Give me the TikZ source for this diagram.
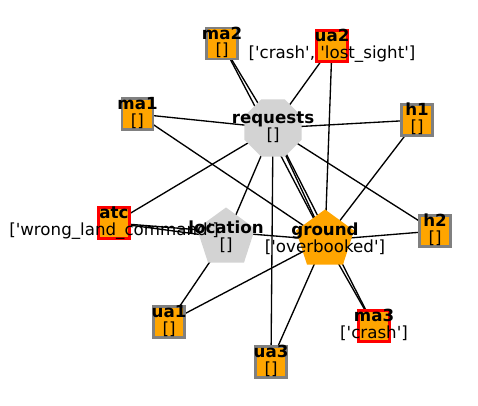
\documentclass[tikz,border=0pt]{standalone}
\usepackage{fontspec}
\setmainfont{DejaVu Sans}
\usetikzlibrary{shapes.geometric,backgrounds}
\definecolor{orng}{HTML}{FFA500}
\definecolor{lgray}{HTML}{D3D3D3}
\definecolor{mgray}{HTML}{808080}
\newcommand\qq{\textquotesingle}
\begin{document}
\begin{tikzpicture}[x=0.75pt,y=-0.75pt,
  sqg/.style={rectangle, draw=mgray, fill=orng, line width=1.9pt, minimum size=23pt, inner sep=0pt},
  sqr/.style={sqg, draw=red},
  oct/.style={regular polygon, regular polygon sides=8, fill=lgray, minimum size=46.3pt, inner sep=0pt},
  pentg/.style={regular polygon, regular polygon sides=5, fill=lgray, minimum size=45.8pt, inner sep=0pt},
  pento/.style={pentg, fill=orng},
  nm/.style={anchor=base, font=\fontsize{12.5}{14}\selectfont\bfseries, inner sep=0pt},
  ls/.style={anchor=base, font=\fontsize{12.5}{14}\selectfont, inner sep=0pt},
  edge/.style={line width=1pt, black}]
\useasboundingbox (0,0) rectangle (478,405);
\foreach \n/\x/\y/\s in {requests/273/128/oct, location/226/238/pentg, ground/325/240/pento,
  ma1/137.5/114/sqg, ma2/222/43.5/sqg, ua2/332/46/sqr, h1/417/120/sqg, atc/114/223/sqr,
  h2/435/231/sqg, ua1/169/322/sqg, ua3/271/362/sqg, ma3/374/326/sqr}
  {\node[\s] (\n) at (\x,\y) {};}
\begin{pgfonlayer}{background}
\foreach \a/\b in {ma1/requests, ma1/ground, ma2/requests, ma2/ground, ua2/requests, ua2/ground,
  h1/requests, h1/ground, atc/requests, atc/location, atc/ground, location/requests,
  h2/requests, h2/ground, ua1/location, ua1/ground, ua3/requests, ua3/ground,
  ma3/requests, ma3/ground, requests/ground}
  {\draw[edge] (\a.center) -- (\b.center);}
\end{pgfonlayer}
\foreach \n/\l in {requests/{[]}, location/{[]}, ground/{[\qq overbooked\qq]},
  ma1/{[]}, ma2/{[]}, ua2/{[\qq crash\qq, \qq lost\_sight\qq]}, h1/{[]},
  atc/{[\qq wrong\_land\_command\qq]}, h2/{[]}, ua1/{[]}, ua3/{[]}, ma3/{[\qq crash\qq]}}
  {\node[nm] (\n-name) at ([yshift=4.5*0.75pt]\n.center) {\n};
   \node[ls] (\n-list) at ([yshift=-12*0.75pt]\n.center) {\l};}
\end{tikzpicture}
\end{document}
